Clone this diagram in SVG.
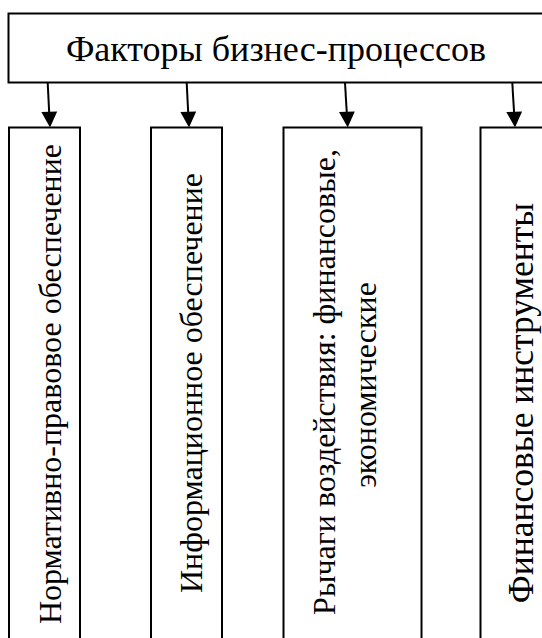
<svg xmlns="http://www.w3.org/2000/svg" width="542" height="638" viewBox="0 0 542 638">
<defs>
<style>
.box{fill:#fff;stroke:#000;stroke-width:2}
.conn{stroke:#000;stroke-width:2;fill:none}
.head{fill:#000;stroke:none}
</style>
</defs>
<rect width="542" height="638" fill="#fff"/>
<g id="root">
<rect class="box" x="8.5" y="13.5" width="540" height="69"/>
<text x="276" y="61" text-anchor="middle" font-family="Liberation Serif, Times New Roman, serif" font-size="36" fill="#000">Факторы бизнес-процессов</text>
</g>
<g id="connectors">
<line class="conn" x1="47.7" y1="83" x2="49.2" y2="113"/>
<polygon class="head" points="41.4,112 57.2,111.6 50,127.5"/>
<line class="conn" x1="186.7" y1="83" x2="188.2" y2="113"/>
<polygon class="head" points="180.4,112 196.2,111.6 189,127.5"/>
<line class="conn" x1="345" y1="83" x2="346.8" y2="113"/>
<polygon class="head" points="339,112 354.8,111.6 347.7,127.5"/>
<line class="conn" x1="512.3" y1="83" x2="514.1" y2="113"/>
<polygon class="head" points="506.3,112 522.1,111.6 515,127.5"/>
</g>
<g id="n1" font-family="Liberation Serif, Times New Roman, serif" font-size="32" fill="#000">
<rect class="box" x="9" y="127.5" width="71" height="530"/>
<text transform="translate(60.5,384) rotate(-90)" text-anchor="middle">Нормативно-правовое обеспечение</text>
</g>
<g id="n2" font-family="Liberation Serif, Times New Roman, serif" font-size="32" fill="#000">
<rect class="box" x="151" y="127.5" width="71" height="530"/>
<text transform="translate(201.5,383) rotate(-90)" text-anchor="middle">Информационное обеспечение</text>
</g>
<g id="n3" font-family="Liberation Serif, Times New Roman, serif" font-size="32" fill="#000">
<rect class="box" x="283.5" y="127.5" width="138" height="530"/>
<text transform="translate(334.5,382) rotate(-90)" text-anchor="middle">Рычаги воздействия: финансовые,</text>
<text transform="translate(376,385) rotate(-90)" text-anchor="middle">экономические</text>
</g>
<g id="n4" font-family="Liberation Serif, Times New Roman, serif" font-size="35.5" fill="#000">
<rect class="box" x="480.5" y="127.5" width="90" height="530"/>
<text transform="translate(532.5,403) rotate(-90)" text-anchor="middle">Финансовые инструменты</text>
</g>
</svg>
